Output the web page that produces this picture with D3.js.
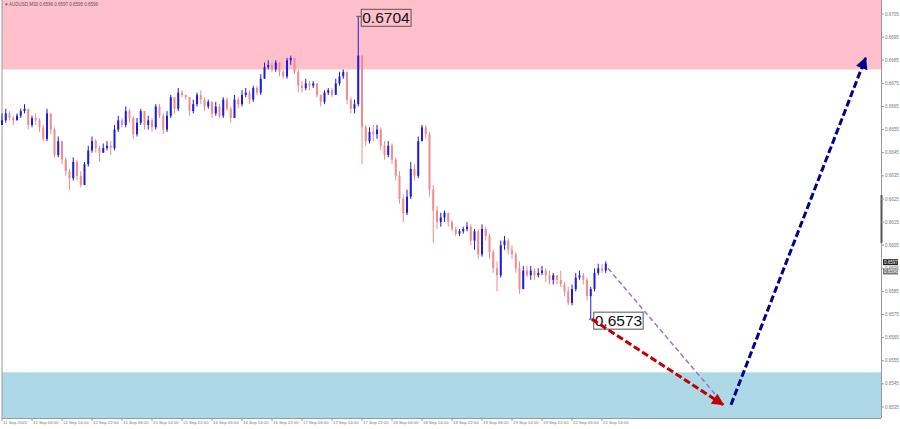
<!DOCTYPE html>
<html><head><meta charset="utf-8">
<script src="https://cdn.jsdelivr.net/npm/d3@7"></script>
<style>body{margin:0;background:#fff;} svg{display:block;font-family:Arial,"Liberation Sans",sans-serif;}</style>
</head><body><svg id="c" width="900" height="429"></svg>
<script>
const symbolTitle = "\u25BE AUDUSD,M30  0.6596 0.6597 0.6595 0.6596";
const timeLabels = ["11 Sep 2020","12 Sep 06:00","12 Sep 14:00","12 Sep 22:00","15 Sep 06:00","15 Sep 14:00","15 Sep 22:00","16 Sep 06:00","16 Sep 14:00","16 Sep 22:00","17 Sep 06:00","17 Sep 14:00","17 Sep 22:00","18 Sep 06:00","18 Sep 14:00","18 Sep 22:00","19 Sep 06:00","19 Sep 14:00","19 Sep 22:00","22 Sep 06:00","22 Sep 14:00"];
const priceTicks = [0.6535,0.6545,0.6555,0.6565,0.6575,0.6585,0.6595,0.6605,0.6615,0.6625,0.6635,0.6645,0.6655,0.6665,0.6675,0.6685,0.6695,0.6705];
const firstOpen = 0.6657;
const closes = [0.6659,0.6662,0.6660,0.6659,0.6661,0.6663,0.6664,0.6657,0.6660,0.6659,0.6656,0.6651,0.6662,0.6655,0.6644,0.6650,0.6642,0.6637,0.6634,0.6641,0.6635,0.6631,0.6640,0.6646,0.6650,0.6647,0.6645,0.6647,0.6648,0.6647,0.6655,0.6659,0.6657,0.6663,0.6660,0.6653,0.6658,0.6663,0.6657,0.6659,0.6656,0.6665,0.6661,0.6655,0.6661,0.6669,0.6664,0.6671,0.6670,0.6669,0.6663,0.6666,0.6670,0.6668,0.6665,0.6667,0.6662,0.6665,0.6661,0.6668,0.6664,0.6660,0.6668,0.6666,0.6670,0.6671,0.6668,0.6673,0.6671,0.6677,0.6682,0.6683,0.6681,0.6684,0.6680,0.6678,0.6685,0.6686,0.6680,0.6674,0.6673,0.6675,0.6674,0.6675,0.6670,0.6667,0.6671,0.6672,0.6670,0.6675,0.6678,0.6680,0.6668,0.6664,0.6666,0.6687,0.6656,0.6650,0.6654,0.6653,0.6655,0.6648,0.6644,0.6648,0.6642,0.6635,0.6625,0.6619,0.6626,0.6638,0.6635,0.6650,0.6656,0.6653,0.6629,0.6620,0.6615,0.6617,0.6619,0.6615,0.6612,0.6610,0.6611,0.6612,0.6613,0.6607,0.6611,0.6601,0.6612,0.6609,0.6602,0.6595,0.6592,0.6605,0.6607,0.6603,0.6601,0.6595,0.6586,0.6594,0.6592,0.6594,0.6592,0.6593,0.6594,0.6592,0.6590,0.6592,0.6590,0.6588,0.6585,0.6580,0.6586,0.6591,0.6592,0.6590,0.6583,0.6586,0.6593,0.6595,0.6594,0.6597];
const highs = [0.6662,0.6664,0.6663,0.6661,0.6662,0.6664,0.6666,0.6664,0.6661,0.6662,0.6660,0.6657,0.6664,0.6661,0.6656,0.6652,0.6650,0.6643,0.6638,0.6643,0.6642,0.6637,0.6641,0.6648,0.6652,0.6651,0.6648,0.6649,0.6650,0.6650,0.6657,0.6661,0.6660,0.6665,0.6664,0.6661,0.6660,0.6664,0.6663,0.6661,0.6660,0.6666,0.6666,0.6662,0.6663,0.6670,0.6668,0.6673,0.6672,0.6670,0.6669,0.6668,0.6671,0.6672,0.6669,0.6668,0.6667,0.6667,0.6666,0.6669,0.6669,0.6665,0.6670,0.6669,0.6672,0.6673,0.6672,0.6674,0.6674,0.6679,0.6684,0.6685,0.6684,0.6685,0.6684,0.6681,0.6686,0.6687,0.6686,0.6681,0.6676,0.6677,0.6676,0.6676,0.6675,0.6670,0.6672,0.6673,0.6673,0.6677,0.6680,0.6681,0.6680,0.6669,0.6668,0.6704,0.6687,0.6657,0.6656,0.6657,0.6657,0.6656,0.6650,0.6650,0.6649,0.6643,0.6637,0.6627,0.6629,0.6641,0.6640,0.6652,0.6657,0.6657,0.6654,0.6631,0.6622,0.6619,0.6620,0.6619,0.6616,0.6613,0.6612,0.6613,0.6615,0.6614,0.6612,0.6612,0.6614,0.6613,0.6610,0.6603,0.6598,0.6607,0.6609,0.6608,0.6605,0.6602,0.6598,0.6596,0.6596,0.6596,0.6595,0.6595,0.6596,0.6595,0.6594,0.6593,0.6592,0.6594,0.6589,0.6587,0.6588,0.6593,0.6594,0.6593,0.6591,0.6587,0.6595,0.6597,0.6597,0.6598];
const lows = [0.6657,0.6658,0.6659,0.6657,0.6659,0.6660,0.6662,0.6655,0.6656,0.6657,0.6654,0.6650,0.6650,0.6653,0.6643,0.6643,0.6640,0.6635,0.6629,0.6633,0.6633,0.6630,0.6631,0.6639,0.6645,0.6645,0.6641,0.6645,0.6646,0.6644,0.6646,0.6654,0.6656,0.6656,0.6658,0.6651,0.6652,0.6657,0.6655,0.6655,0.6654,0.6655,0.6660,0.6653,0.6654,0.6660,0.6662,0.6663,0.6669,0.6668,0.6661,0.6662,0.6665,0.6666,0.6663,0.6664,0.6660,0.6661,0.6660,0.6660,0.6663,0.6658,0.6660,0.6664,0.6665,0.6669,0.6666,0.6667,0.6670,0.6670,0.6677,0.6681,0.6680,0.6680,0.6678,0.6677,0.6677,0.6683,0.6679,0.6671,0.6671,0.6672,0.6672,0.6673,0.6669,0.6665,0.6666,0.6670,0.6669,0.6670,0.6674,0.6677,0.6666,0.6662,0.6662,0.6665,0.6640,0.6648,0.6649,0.6650,0.6651,0.6646,0.6642,0.6643,0.6640,0.6633,0.6623,0.6615,0.6618,0.6625,0.6633,0.6634,0.6650,0.6651,0.6626,0.6606,0.6612,0.6613,0.6615,0.6613,0.6611,0.6609,0.6609,0.6610,0.6611,0.6605,0.6603,0.6599,0.6600,0.6607,0.6599,0.6593,0.6585,0.6591,0.6603,0.6601,0.6599,0.6593,0.6584,0.6586,0.6591,0.6590,0.6590,0.6591,0.6592,0.6589,0.6588,0.6588,0.6588,0.6587,0.6583,0.6579,0.6579,0.6585,0.6590,0.6588,0.6581,0.6573,0.6585,0.6592,0.6593,0.6593];
const sellZone = [0.6681, 0.6712];
const buyZone = [0.6530, 0.6550];
const extremeLabels = [{idx:95, price:0.6704, text:"0.6704"}, {idx:157, price:0.6573, text:"0.6573"}];
const forecastPurple = [[161.6, 0.6595],[191.5, 0.6538]];
const forecastRed = [[157.3, 0.6573],[192.3, 0.6536]];
const forecastNavy = [[194.4, 0.6536],[230.3, 0.6686]];
const bidLabel = {price:0.6597, text:"0.6597"};
const askLabel = {price:0.6596, text:"0.6596"};

const svg = d3.select("#c");
const L = 2, R = 881, T = 0, B = 418;
const x = d3.scaleLinear().domain([0, 234.4]).range([L, R]);
const y = d3.scaleLinear().domain([0.6535, 0.6705]).range([407, 14]);

const candles = closes.map((c,i)=>({i, o: i===0?firstOpen:closes[i-1], h: highs[i], l: lows[i], c}));

// zones
svg.append("rect").attr("x",L).attr("width",R-L).attr("y",T).attr("height",y(sellZone[0])-T).attr("fill","#ffc0cb");
svg.append("rect").attr("x",L).attr("width",R-L).attr("y",y(buyZone[1])).attr("height",B-y(buyZone[1])).attr("fill","#add8e6");

// frame
svg.append("line").attr("x1",L).attr("x2",L).attr("y1",0).attr("y2",B).attr("stroke","#999").attr("stroke-width",1);
svg.append("line").attr("x1",L).attr("x2",R).attr("y1",B+0.5).attr("y2",B+0.5).attr("stroke","#999").attr("stroke-width",1);
svg.append("line").attr("x1",R+0.5).attr("x2",R+0.5).attr("y1",0).attr("y2",B).attr("stroke","#999").attr("stroke-width",1);
svg.append("rect").attr("x",R-0.5).attr("y",195).attr("width",2).attr("height",48).attr("fill","#555");

// title
svg.append("text").attr("x",5).attr("y",6).attr("font-size",4.5).attr("fill","#555").text(symbolTitle);

// candles
const g = svg.append("g");
const bull = "#1c1ce0", bear = "#f08c8c";
g.selectAll("line.w").data(candles).join("line")
  .attr("x1",d=>x(d.i)).attr("x2",d=>x(d.i)).attr("y1",d=>y(d.h)).attr("y2",d=>y(d.l))
  .attr("stroke",d=>d.c>=d.o?bull:bear).attr("stroke-width",1);
g.selectAll("rect.b").data(candles).join("rect")
  .attr("x",d=>x(d.i)-1).attr("width",2)
  .attr("y",d=>y(Math.max(d.o,d.c))).attr("height",d=>Math.max(1,Math.abs(y(d.o)-y(d.c))))
  .attr("fill",d=>d.c>=d.o?bull:bear);

// price axis
const ya = svg.append("g").attr("transform",`translate(${R},0)`);
priceTicks.forEach(p=>{
  ya.append("line").attr("x1",0).attr("x2",3).attr("y1",y(p)).attr("y2",y(p)).attr("stroke","#999");
  ya.append("text").attr("x",4).attr("y",y(p)+1.6).attr("font-size",4.5).attr("fill","#777").text(p.toFixed(4));
});
[[bidLabel,"#222"],[askLabel,"#777"]].forEach(([lb,col],j)=>{
  const yy = j===0 ? y(lb.price)-1.5 : y(lb.price)+5.5;
  ya.append("rect").attr("x",2).attr("y",yy-3).attr("width",15).attr("height",6).attr("fill",col);
  ya.append("text").attr("x",3).attr("y",yy+1.6).attr("font-size",4.5).attr("fill","#fff").text(lb.text);
});

// time axis
timeLabels.forEach((t,i)=>{
  const xx = x(i*8);
  svg.append("line").attr("x1",xx).attr("x2",xx).attr("y1",B).attr("y2",B+3).attr("stroke","#999");
  svg.append("text").attr("x",xx+1).attr("y",B+5.5).attr("font-size",4.3).attr("fill","#777").text(t);
});

// extreme labels
extremeLabels.forEach(e=>{
  const xx = x(e.idx), yy = y(e.price);
  svg.append("line").attr("x1",xx-2).attr("x2",xx+3).attr("y1",yy).attr("y2",yy).attr("stroke","#555");
  const t = svg.append("text").attr("x",xx+4).attr("y",yy+7).attr("font-size",15.5).attr("fill","#111").text(e.text);
  const bb = t.node().getBBox();
  svg.append("rect").attr("x",bb.x-1).attr("y",bb.y).attr("width",bb.width+2).attr("height",bb.height)
    .attr("fill","none").attr("stroke","#555").attr("stroke-width",1);
});

// arrows
const defs = svg.append("defs");
function marker(id,col){
  defs.append("marker").attr("id",id).attr("viewBox","0 0 10 10").attr("refX",9).attr("refY",5)
    .attr("markerWidth",14).attr("markerHeight",12).attr("markerUnits","userSpaceOnUse").attr("orient","auto")
    .append("path").attr("d","M0,0 L10,5 L0,10 Z").attr("fill",col);
}
marker("mRed","#c00000"); marker("mNavy","#00008b");
const line = d3.line().x(d=>x(d[0])).y(d=>y(d[1]));
svg.append("path").attr("d",line(forecastPurple)).attr("stroke","#9b6fd6").attr("stroke-width",1.5).attr("stroke-dasharray","5,3").attr("fill","none");
svg.append("path").attr("d",line(forecastRed)).attr("stroke","#c00000").attr("stroke-width",3).attr("stroke-dasharray","7,3").attr("fill","none").attr("marker-end","url(#mRed)");
svg.append("path").attr("d",line(forecastNavy)).attr("stroke","#00008b").attr("stroke-width",3).attr("stroke-dasharray","7,3").attr("fill","none").attr("marker-end","url(#mNavy)");
</script></body></html>
